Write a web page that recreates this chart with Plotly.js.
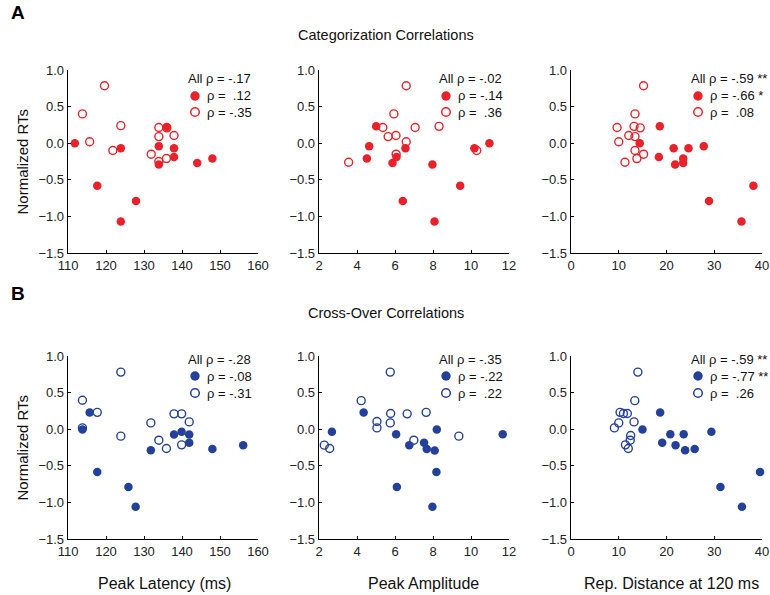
<!DOCTYPE html>
<html>
<head>
<meta charset="utf-8">
<script src="https://cdn.plot.ly/plotly-3.0.1.min.js"></script>
<style>html,body{margin:0;padding:0;background:#fff;}#chart{width:770px;height:595px;}</style>
</head>
<body>
<div id="chart"></div>
<script>
// ---------- DATA ----------
// Row A: Categorization correlations
const catLatFilledX = [111.8,117.7,123.9,127.9,123.9,133.9,133.9,136.0,137.9,137.9,144.0,148.0];
const catLatFilledY = [0.0,-0.58,-1.07,-0.79,-0.07,-0.04,-0.29,0.22,-0.07,-0.19,-0.27,-0.21];
const catLatOpenX = [119.6,113.8,115.7,121.8,123.9,133.9,133.9,131.9,135.9,137.9,136.0,133.9];
const catLatOpenY = [0.785,0.40,0.02,-0.10,0.24,0.215,0.09,-0.15,-0.21,0.105,0.21,-0.25];

const catAmpFilledX = [5.01,4.64,4.52,5.87,6.08,6.55,6.41,7.97,8.08,9.43,10.18,10.97];
const catAmpFilledY = [0.23,-0.04,-0.21,-0.27,-0.19,-0.07,-0.79,-0.29,-1.07,-0.58,-0.07,0.0];
const catAmpOpenX = [3.56,6.59,5.94,5.36,5.64,6.05,7.06,6.59,6.06,8.32,10.3];
const catAmpOpenY = [-0.26,0.785,0.40,0.215,0.09,0.105,0.215,0.02,-0.15,0.23,-0.10];

const catDistFilledX = [14.4,18.6,18.4,21.5,24.6,27.8,23.5,23.5,21.8,38.2,28.9,35.7];
const catDistFilledY = [0.0,0.23,-0.19,-0.07,-0.07,-0.04,-0.21,-0.27,-0.29,-0.58,-0.79,-1.07];
const catDistOpenX = [15.2,13.4,9.65,13.2,14.5,12.1,13.4,10.0,13.4,15.2,13.8,11.3];
const catDistOpenY = [0.785,0.40,0.215,0.23,0.21,0.105,0.09,0.02,-0.10,-0.15,-0.21,-0.26];

// Row B: Cross-over correlations
const crossLatFilledX = [113.8,115.7,117.7,125.9,127.8,131.8,137.9,139.9,141.9,141.9,148.0,156.1];
const crossLatFilledY = [-0.005,0.227,-0.586,-0.79,-1.06,-0.286,-0.073,-0.036,-0.073,-0.186,-0.27,-0.22];
const crossLatOpenX = [123.9,113.8,117.7,123.9,131.8,133.9,135.9,137.9,139.9,141.9,139.9,113.8];
const crossLatOpenY = [0.78,0.395,0.23,-0.095,0.086,-0.15,-0.264,0.21,0.21,0.10,-0.214,0.018];

const crossAmpFilledX = [2.68,4.35,6.06,6.75,7.53,7.67,8.09,8.2,8.18,6.1,7.97,11.67];
const crossAmpFilledY = [-0.036,0.227,-0.068,-0.218,-0.186,-0.27,-0.29,-0.005,-0.586,-0.79,-1.06,-0.068];
const crossAmpOpenX = [2.28,2.56,4.22,5.05,5.05,5.75,5.77,5.75,6.64,7.64,6.99,9.36];
const crossAmpOpenY = [-0.218,-0.264,0.39,0.105,0.018,0.78,0.214,0.086,0.21,0.23,-0.15,-0.095];

const crossDistFilledX = [14.97,18.67,19.1,20.8,21.9,23.6,23.9,25.9,29.4,39.6,31.3,35.8];
const crossDistFilledY = [-0.005,0.227,-0.186,-0.068,-0.218,-0.068,-0.286,-0.27,-0.036,-0.586,-0.79,-1.06];
const crossDistOpenX = [14.0,13.36,10.28,10.98,11.8,10.0,9.09,13.2,12.5,12.4,11.4,12.0];
const crossDistOpenY = [0.78,0.39,0.23,0.214,0.214,0.086,0.018,0.10,-0.086,-0.15,-0.214,-0.264];

// Correlation labels
const catAllLabels = ["-.17","-.02","-.59 **"];
const catFilledLabels = ["\u00A0.12","-.14","-.66 *"];
const catOpenLabels = ["-.35","\u00A0.36","\u00A0.08"];
const crossAllLabels = ["-.28","-.35","-.59 **"];
const crossFilledLabels = ["-.08","-.22","-.77 **"];
const crossOpenLabels = ["-.31","\u00A0.22","\u00A0.26"];

// Axis settings
const xRanges = [[110,160],[2,12],[0,40]];
const xDticks = [10,2,10];
const xTitles = ["Peak Latency (ms)","Peak Amplitude","Rep. Distance at 120 ms"];
const rowTitles = ["Categorization Correlations","Cross-Over Correlations"];
const panelLetters = ["A","B"];
const yTitle = "Normalized RTs";

// ---------- LAYOUT ----------
const W = 770, H = 595;
const RED = "#E8222A", BLUE = "#23409A";
const FONT = "Arial, 'Liberation Sans', sans-serif";
const colPx = [[68,258],[319,509],[571,762]];
const xTitleCenters = [164,424,671];
const rowPx = [[70,253],[356,539]]; // top, bottom
const px = v => v / W;
const py = v => 1 - v / H;

const rows = [
  {color: RED, data: [
    [catLatFilledX,catLatFilledY,catLatOpenX,catLatOpenY],
    [catAmpFilledX,catAmpFilledY,catAmpOpenX,catAmpOpenY],
    [catDistFilledX,catDistFilledY,catDistOpenX,catDistOpenY]],
   all: catAllLabels, filled: catFilledLabels, open: catOpenLabels, legOff: [9,26,42]},
  {color: BLUE, data: [
    [crossLatFilledX,crossLatFilledY,crossLatOpenX,crossLatOpenY],
    [crossAmpFilledX,crossAmpFilledY,crossAmpOpenX,crossAmpOpenY],
    [crossDistFilledX,crossDistFilledY,crossDistOpenX,crossDistOpenY]],
   all: crossAllLabels, filled: crossFilledLabels, open: crossOpenLabels, legOff: [3,20,37]}
];

const traces = [];
const layout = {
  width: W, height: H,
  margin: {l:0, r:0, t:0, b:0},
  paper_bgcolor: "#fff", plot_bgcolor: "#fff",
  showlegend: false,
  font: {family: FONT, color: "#1a1a1a", size: 12},
  annotations: [], shapes: []
};

let idx = 0;
rows.forEach((row, r) => {
  for (let c = 0; c < 3; c++) {
    idx++;
    const xa = idx === 1 ? "x" : "x" + idx;
    const ya = idx === 1 ? "y" : "y" + idx;
    const xk = idx === 1 ? "xaxis" : "xaxis" + idx;
    const yk = idx === 1 ? "yaxis" : "yaxis" + idx;
    const d = row.data[c];
    traces.push({x: d[2], y: d[3], xaxis: xa, yaxis: ya, type: "scatter", mode: "markers",
      cliponaxis: false, hoverinfo: "skip",
      marker: {symbol: "circle-open", size: 8, color: row.color, line: {width: 1.4, color: row.color}}});
    traces.push({x: d[0], y: d[1], xaxis: xa, yaxis: ya, type: "scatter", mode: "markers",
      cliponaxis: false, hoverinfo: "skip",
      marker: {symbol: "circle", size: 8.5, color: row.color, line: {width: 0}}});
    layout[xk] = {
      domain: [px(colPx[c][0]), px(colPx[c][1])], anchor: ya,
      range: xRanges[c], dtick: xDticks[c], tick0: xRanges[c][0],
      showgrid: false, zeroline: false, showline: true, linecolor: "#000", linewidth: 1.3,
      ticks: "inside", ticklen: 3, tickcolor: "#000", tickwidth: 1,
      tickfont: {family: FONT, size: 13, color: "#222"}, fixedrange: true
    };
    layout[yk] = {
      domain: [py(rowPx[r][1]), py(rowPx[r][0])], anchor: xa,
      range: [-1.5, 1.0], dtick: 0.5, tick0: -1.5, tickformat: ".1f",
      showgrid: false, zeroline: false, showline: true, linecolor: "#000", linewidth: 1.3,
      ticks: "inside", ticklen: 3, tickcolor: "#000", tickwidth: 1,
      tickfont: {family: FONT, size: 13, color: "#222"}, fixedrange: true
    };
    // correlation legend
    const x0 = colPx[c][0], top = rowPx[r][0];
    layout.annotations.push({xref:"paper", yref:"paper", x: px(x0+118), y: py(top+row.legOff[0]),
      xanchor:"left", yanchor:"middle", showarrow:false, text: "All \u03C1 = " + row.all[c],
      font:{family: FONT, size: 13, color:"#111"}});
    layout.annotations.push({xref:"paper", yref:"paper", x: px(x0+137), y: py(top+row.legOff[1]),
      xanchor:"left", yanchor:"middle", showarrow:false, text: "\u03C1 = " + row.filled[c],
      font:{family: FONT, size: 13, color:"#111"}});
    layout.annotations.push({xref:"paper", yref:"paper", x: px(x0+137), y: py(top+row.legOff[2]),
      xanchor:"left", yanchor:"middle", showarrow:false, text: "\u03C1 = " + row.open[c],
      font:{family: FONT, size: 13, color:"#111"}});
    const mx = x0 + 127;
    layout.shapes.push({type:"circle", xref:"paper", yref:"paper",
      x0: px(mx-4.7), x1: px(mx+4.7), y0: py(top+row.legOff[1]+4.7), y1: py(top+row.legOff[1]-4.7),
      fillcolor: row.color, line:{width:0}});
    layout.shapes.push({type:"circle", xref:"paper", yref:"paper",
      x0: px(mx-4.3), x1: px(mx+4.3), y0: py(top+row.legOff[2]+4.3), y1: py(top+row.legOff[2]-4.3),
      fillcolor: "rgba(0,0,0,0)", line:{width:1.5, color: row.color}});
  }
  // row title, letter, y title
  layout.annotations.push({xref:"paper", yref:"paper", x: px(386), y: py(r === 0 ? 35 : 313),
    xanchor:"center", yanchor:"middle", showarrow:false, text: rowTitles[r],
    font:{family: FONT, size: 14.5, color:"#111"}});
  layout.annotations.push({xref:"paper", yref:"paper", x: px(18), y: py(r === 0 ? 12 : 293),
    xanchor:"center", yanchor:"middle", showarrow:false, text: "<b>" + panelLetters[r] + "</b>",
    font:{family: FONT, size: 19, color:"#000"}});
  layout.annotations.push({xref:"paper", yref:"paper", x: px(22), y: py((rowPx[r][0]+rowPx[r][1])/2),
    xanchor:"center", yanchor:"middle", showarrow:false, text: yTitle, textangle: -90,
    font:{family: FONT, size: 15, color:"#111"}});
});
for (let c = 0; c < 3; c++) {
  layout.annotations.push({xref:"paper", yref:"paper", x: px(xTitleCenters[c]), y: py(583),
    xanchor:"center", yanchor:"middle", showarrow:false, text: xTitles[c],
    font:{family: FONT, size: 16, color:"#111"}});
}

Plotly.newPlot("chart", traces, layout, {staticPlot: true, displayModeBar: false});
</script>
</body>
</html>
